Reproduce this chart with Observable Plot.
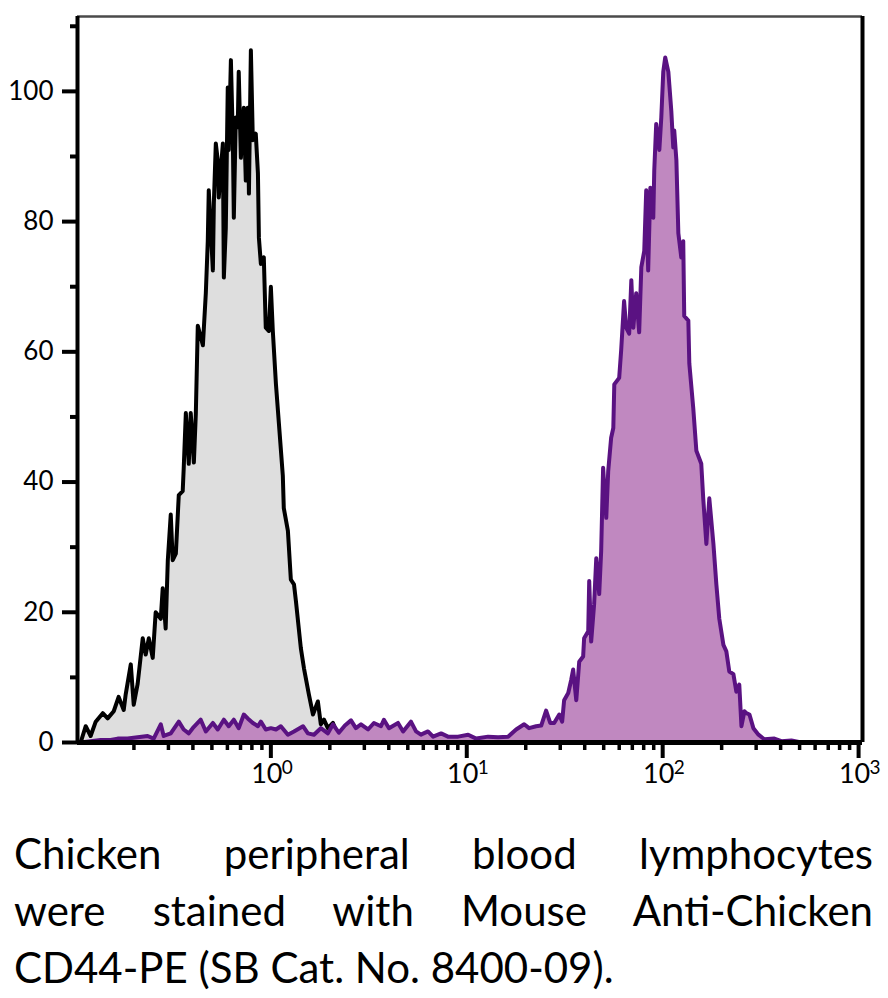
<!DOCTYPE html>
<html>
<head>
<meta charset="utf-8">
<script src="https://cdn.jsdelivr.net/npm/d3@7"></script>
<script src="https://cdn.jsdelivr.net/npm/@observablehq/plot@0.6"></script>
<style>
  html, body { margin: 0; padding: 0; background: #fff; overflow: hidden; }
  #chart { width: 888px; height: 805px; }
  #caption { width: 859px; margin-left: 14px; font-family: Lato, "Open Sans", sans-serif; font-size: 42px; line-height: 57px; color: #000; margin-top: 20px; }
  #caption .j { text-align: justify; text-align-last: justify; white-space: nowrap; }
  #caption .l { text-align: left; white-space: nowrap; }
</style>
</head>
<body>
<div id="chart"></div>
<div id="caption">
  <div class="j">Chicken peripheral blood lymphocytes</div>
  <div class="j">were stained with Mouse Anti-Chicken</div>
  <div class="l">CD44-PE (SB Cat. No. 8400-09).</div>
</div>
<script>
// Control (black outline, grey fill): log10 of fluorescence and event count
const controlLog = [-0.971,-0.945,-0.920,-0.894,-0.858,-0.833,-0.802,-0.777,-0.751,-0.741,-0.715,-0.700,-0.680,-0.654,-0.639,-0.623,-0.603,-0.588,-0.562,-0.552,-0.537,-0.526,-0.511,-0.501,-0.485,-0.470,-0.450,-0.445,-0.434,-0.419,-0.409,-0.393,-0.383,-0.373,-0.347,-0.332,-0.322,-0.317,-0.296,-0.291,-0.281,-0.271,-0.266,-0.245,-0.240,-0.230,-0.220,-0.215,-0.204,-0.194,-0.189,-0.179,-0.169,-0.164,-0.153,-0.143,-0.138,-0.128,-0.118,-0.112,-0.102,-0.092,-0.077,-0.066,-0.061,-0.051,-0.036,-0.026,-0.010,0,0.010,0.026,0.036,0.051,0.061,0.066,0.087,0.102,0.118,0.128,0.153,0.169,0.194,0.215,0.240,0.255,0.271,0.291,0.317,0.342,0.358,0.383];
const controlCount = [0,2.5,1,3.2,4.5,3.7,4.8,7,5,7.4,12,5.8,9,16,13.5,16,13,20,19,23.7,17.5,28,35,28,29,38,38.6,42,50.6,42.8,50.6,43,50.5,64,61,69,77,84.8,72.5,82.8,92,89.4,83.7,92,71.4,79,100.6,91,104.8,92.5,80.6,96,94.5,103,89.8,94.5,97.5,86.3,97.5,84.3,106.3,92.5,93.5,87.4,77.5,73.5,74.5,63.7,63.2,70,63.2,55,51,45,41,36,32.5,25,24.3,21.7,14.5,11.4,7.4,4.3,6.3,2.8,3.5,2.2,3,1.2,0.3,0];

// CD44-PE stained (purple)
const stainedLog = [-0.971,-0.869,-0.818,-0.782,-0.731,-0.680,-0.629,-0.598,-0.562,-0.547,-0.511,-0.470,-0.445,-0.419,-0.399,-0.358,-0.332,-0.296,-0.271,-0.240,-0.215,-0.189,-0.164,-0.138,-0.118,-0.092,-0.066,-0.051,-0.026,0,0.026,0.051,0.087,0.118,0.164,0.189,0.220,0.255,0.291,0.317,0.347,0.378,0.409,0.434,0.460,0.496,0.526,0.562,0.577,0.603,0.649,0.675,0.715,0.741,0.766,0.802,0.828,0.869,0.904,0.956,1.007,1.048,1.109,1.160,1.211,1.252,1.293,1.318,1.354,1.380,1.405,1.426,1.446,1.472,1.487,1.497,1.518,1.533,1.543,1.559,1.574,1.594,1.599,1.620,1.625,1.635,1.650,1.661,1.676,1.686,1.696,1.712,1.722,1.737,1.748,1.753,1.778,1.788,1.803,1.814,1.829,1.840,1.850,1.865,1.880,1.891,1.906,1.916,1.926,1.937,1.952,1.957,1.967,1.983,1.993,2.003,2.013,2.029,2.034,2.044,2.054,2.059,2.070,2.080,2.095,2.105,2.110,2.131,2.136,2.156,2.172,2.197,2.207,2.223,2.238,2.259,2.274,2.289,2.310,2.325,2.340,2.361,2.376,2.391,2.402,2.417,2.427,2.443,2.463,2.489,2.519,2.570,2.606,2.657,2.708,2.900];
const stainedCount = [0,0.4,0.4,0.6,0.6,0.8,1,0.6,2.8,1,1.4,3.2,2,1.4,2.2,3.5,1.7,3,2,3.5,2.5,3.5,2.2,4.3,3.7,3,2.5,3.2,2,2.2,2,2.5,1.2,1.7,2.5,1.4,1.2,2.2,1.4,2.8,1.5,2.6,3.4,2.2,2.8,2,3,2.5,3.5,2.2,3,1.7,3.2,1.7,1.2,1.7,0.9,1.4,0.9,0.9,1.2,0.6,0.9,0.8,0.9,2,2.8,2.2,2.5,2.6,4.9,3.0,3.0,4.3,3.2,6.5,7.6,9.6,11.2,6.5,12.4,13.2,16,17.1,24.8,15.5,21.2,28.3,22.8,29.4,42.2,34.5,41.7,46.8,48.3,55,56,60.2,67.8,63.7,62.8,71,63.7,69,63,73,75.5,84.8,72.5,85.2,80.6,87.8,95,91,96,103,105.2,103,101,97,91.4,94,89.4,78.2,74.5,77,65.5,64.8,58.2,51.4,44.8,42.8,37.5,30.5,37.5,30.5,24.3,19,15,14,10.9,10.5,7.8,8.9,2.5,4.8,4.5,4.3,2.2,1.2,0.5,0.6,0.2,0.3,0,0];

// Axis ticks
const yMajorTicks = [0, 20, 40, 60, 80, 100];
const yMinorTicks = [10, 30, 50, 70, 90, 110];
const xMajorTicks = [1, 10, 100, 1000];
const xExponents = ["0", "1", "2", "3"];
const xMinorTicks = [0.2,0.3,0.4,0.5,0.6,0.7,0.8,0.9, 2,3,4,5,6,7,8,9, 20,30,40,50,60,70,80,90, 200,300,400,500,600,700,800,900];

const control = controlLog.map((e, i) => ({x: 10 ** e, y: controlCount[i]}));
const stained = stainedLog.map((e, i) => ({x: 10 ** e, y: stainedCount[i]}));

const xMin = 10 ** -0.987, xMax = 10 ** 3.02, yMax = 111.5;
const font = "Lato, 'Open Sans', sans-serif";

const chart = Plot.plot({
  width: 888,
  height: 805,
  marginLeft: 77,
  marginRight: 26,
  marginTop: 16,
  marginBottom: 63,
  x: {type: "log", domain: [xMin, xMax]},
  y: {domain: [0, yMax]},
  style: {fontFamily: font, background: "#fff", color: "#000", overflow: "visible"},
  marks: [
    Plot.areaY(control, {x: "x", y: "y", fill: "#dedede"}),
    Plot.lineY(control, {x: "x", y: "y", stroke: "#000", strokeWidth: 4, strokeLinejoin: "round"}),
    Plot.areaY(stained, {x: "x", y: "y", fill: "#c088c0"}),
    Plot.lineY(stained, {x: "x", y: "y", stroke: "#5a1282", strokeWidth: 4, strokeLinejoin: "round"}),
    Plot.ruleY([yMax], {stroke: "#4a4a4a", strokeWidth: 2.5}),
    Plot.ruleX([xMax], {stroke: "#000", strokeWidth: 4}),
    Plot.ruleX([xMin], {stroke: "#000", strokeWidth: 4}),
    Plot.ruleY([0], {stroke: "#000", strokeWidth: 5}),
    Plot.axisY(yMajorTicks, {tickSize: 15, tickPadding: 9, strokeWidth: 4, fontSize: 26, label: null}),
    Plot.axisY(yMinorTicks, {tickSize: 7, strokeWidth: 4, tickFormat: () => "", label: null}),
    Plot.axisX(xMajorTicks, {tickSize: 16, strokeWidth: 4, tickFormat: () => "", label: null}),
    Plot.axisX(xMinorTicks, {tickSize: 8, strokeWidth: 3.5, tickFormat: () => "", label: null}),
    Plot.text(xMajorTicks, {x: d => d, text: () => "10", frameAnchor: "bottom", dy: 40, dx: -4, fontSize: 27, textAnchor: "middle"}),
    Plot.text(xMajorTicks, {x: d => d, text: (d, i) => xExponents[i], frameAnchor: "bottom", dy: 31, dx: 11, fontSize: 19, textAnchor: "start"})
  ]
});
document.getElementById("chart").appendChild(chart);
</script>
</body>
</html>
